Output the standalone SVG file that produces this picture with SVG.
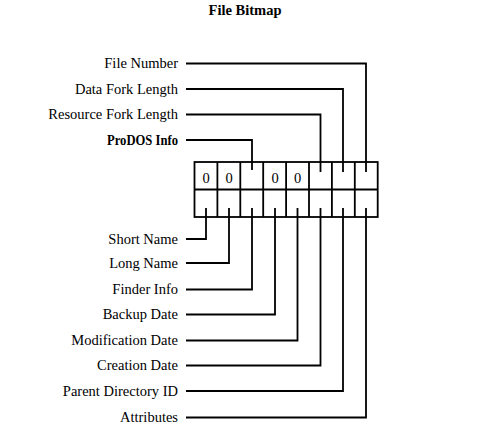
<svg xmlns="http://www.w3.org/2000/svg" width="488" height="425" viewBox="0 0 488 425">
<style>
text{font-family:"Liberation Serif","Times New Roman",serif;font-size:14.5px;fill:#000}
.lbl{text-anchor:end}
.b{font-weight:bold}
.z{text-anchor:middle;font-size:14.5px}
.ln{fill:none;stroke:#000;stroke-width:1.8}
</style>
<rect width="488" height="425" fill="#fff"/>
<text id="title" class="b" x="245" y="15" text-anchor="middle">File Bitmap</text>
<g id="bitmap">
<rect class="ln" x="194.5" y="162" width="183.2" height="55"/>
<path class="ln" d="M194.5 189.5H377.7M217.4 162V217M240.3 162V217M263.2 162V217M286.1 162V217M309 162V217M331.9 162V217M354.8 162V217"/>
<text class="z" x="206" y="183">0</text>
<text class="z" x="229" y="183">0</text>
<text class="z" x="275" y="183">0</text>
<text class="z" x="297.5" y="183">0</text>
</g>
<g id="labels">
<text id="file-number" class="lbl" x="178" y="68">File Number</text>
<text id="data-fork-length" class="lbl" x="178" y="93.5">Data Fork Length</text>
<text id="resource-fork-length" class="lbl" x="178" y="119">Resource Fork Length</text>
<text id="prodos-info" class="lbl b" x="178" y="144.5" textLength="71" lengthAdjust="spacingAndGlyphs">ProDOS Info</text>
<text id="short-name" class="lbl" x="178" y="243.5">Short Name</text>
<text id="long-name" class="lbl" x="178" y="267.5">Long Name</text>
<text id="finder-info" class="lbl" x="178" y="294">Finder Info</text>
<text id="backup-date" class="lbl" x="178" y="319">Backup Date</text>
<text id="modification-date" class="lbl" x="178" y="345">Modification Date</text>
<text id="creation-date" class="lbl" x="178" y="370">Creation Date</text>
<text id="parent-directory-id" class="lbl" x="178" y="395.5">Parent Directory ID</text>
<text id="attributes" class="lbl" x="178" y="422">Attributes</text>
</g>
<g id="connectors" class="ln">
<path d="M186 63.5H366V172"/>
<path d="M186 89H343V172"/>
<path d="M186 114.5H320.5V172"/>
<path d="M186 140H252V170"/>
<path d="M186 239H206V208"/>
<path d="M186 263H229V208"/>
<path d="M186 289.5H252V208"/>
<path d="M186 314.5H275V208"/>
<path d="M186 340.5H297.5V208"/>
<path d="M186 365.5H320.5V208"/>
<path d="M186 391H343V208"/>
<path d="M186 417.5H366V208"/>
</g>
</svg>
